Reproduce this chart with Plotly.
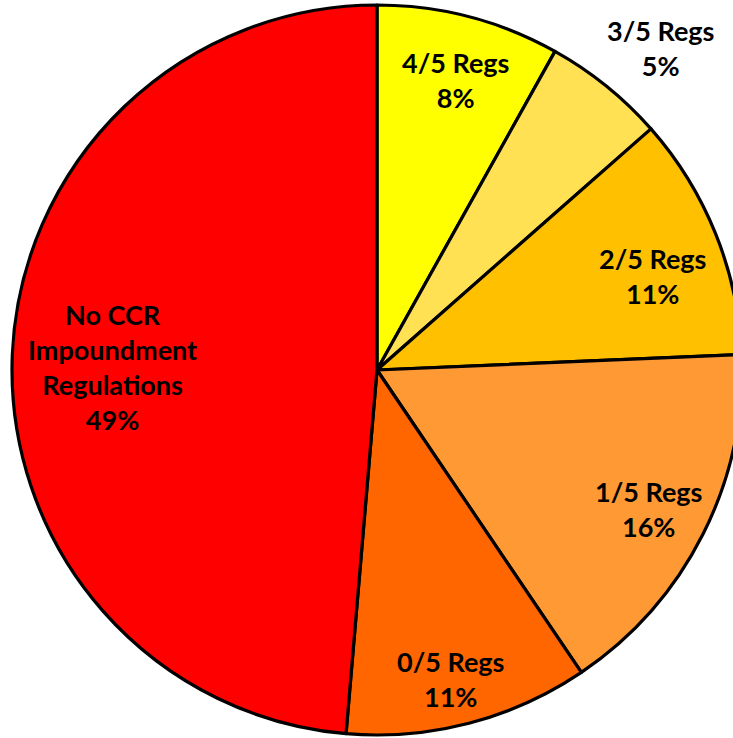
import math
import plotly.graph_objects as go

# Data (counts of states / regulation status)
categories = ["4/5 Regs", "3/5 Regs", "2/5 Regs", "1/5 Regs", "0/5 Regs",
              "No CCR<br>Impoundment<br>Regulations"]
values = [3, 2, 4, 6, 4, 18]
colors = ["#FFFF00", "#FFE153", "#FFC000", "#FF9933", "#FF6600", "#FF0000"]

# label placement (distance from centre in px, angle offset from slice middle in deg)
label_dist = [300, 429, 291, 305, 318, 265]
label_dang = [0.5, 2.4, 3.0, 0.4, 1.3, -1.8]

W, H = 742, 738
L, R, T, B = 12, 0, 5, 3
pw, ph = W - L - R, H - T - B
cx, cy = L + pw / 2, T + ph / 2

fig = go.Figure(go.Pie(
    labels=categories,
    values=values,
    sort=False,
    direction="clockwise",
    rotation=0,
    marker=dict(colors=colors, line=dict(color="black", width=3.2)),
    textinfo="none",
    hoverinfo="label+percent",
    showlegend=False,
))

total = sum(values)
cum = 0
annotations = []
for lab, v, d, da in zip(categories, values, label_dist, label_dang):
    mid = (cum + v / 2) / total * 360 + da
    cum += v
    px = cx + d * math.sin(math.radians(mid))
    py = cy - d * math.cos(math.radians(mid))
    pct = round(100 * v / total)
    annotations.append(dict(
        x=(px - L) / pw, y=1 - (py - T) / ph, xref="paper", yref="paper",
        text=f"{lab}<br>{pct}%", showarrow=False,
        xanchor="center", yanchor="middle", align="center",
        font=dict(family="Lato", size=27, color="black", weight="bold"),
    ))

fig.update_layout(
    width=W, height=H,
    margin=dict(l=L, r=R, t=T, b=B),
    paper_bgcolor="white", plot_bgcolor="white",
    annotations=annotations,
)

fig.write_html("out.html",
               config={"displayModeBar": False},
               post_script="document.body.style.margin='0';document.body.style.overflow='hidden';document.documentElement.style.overflow='hidden';")
